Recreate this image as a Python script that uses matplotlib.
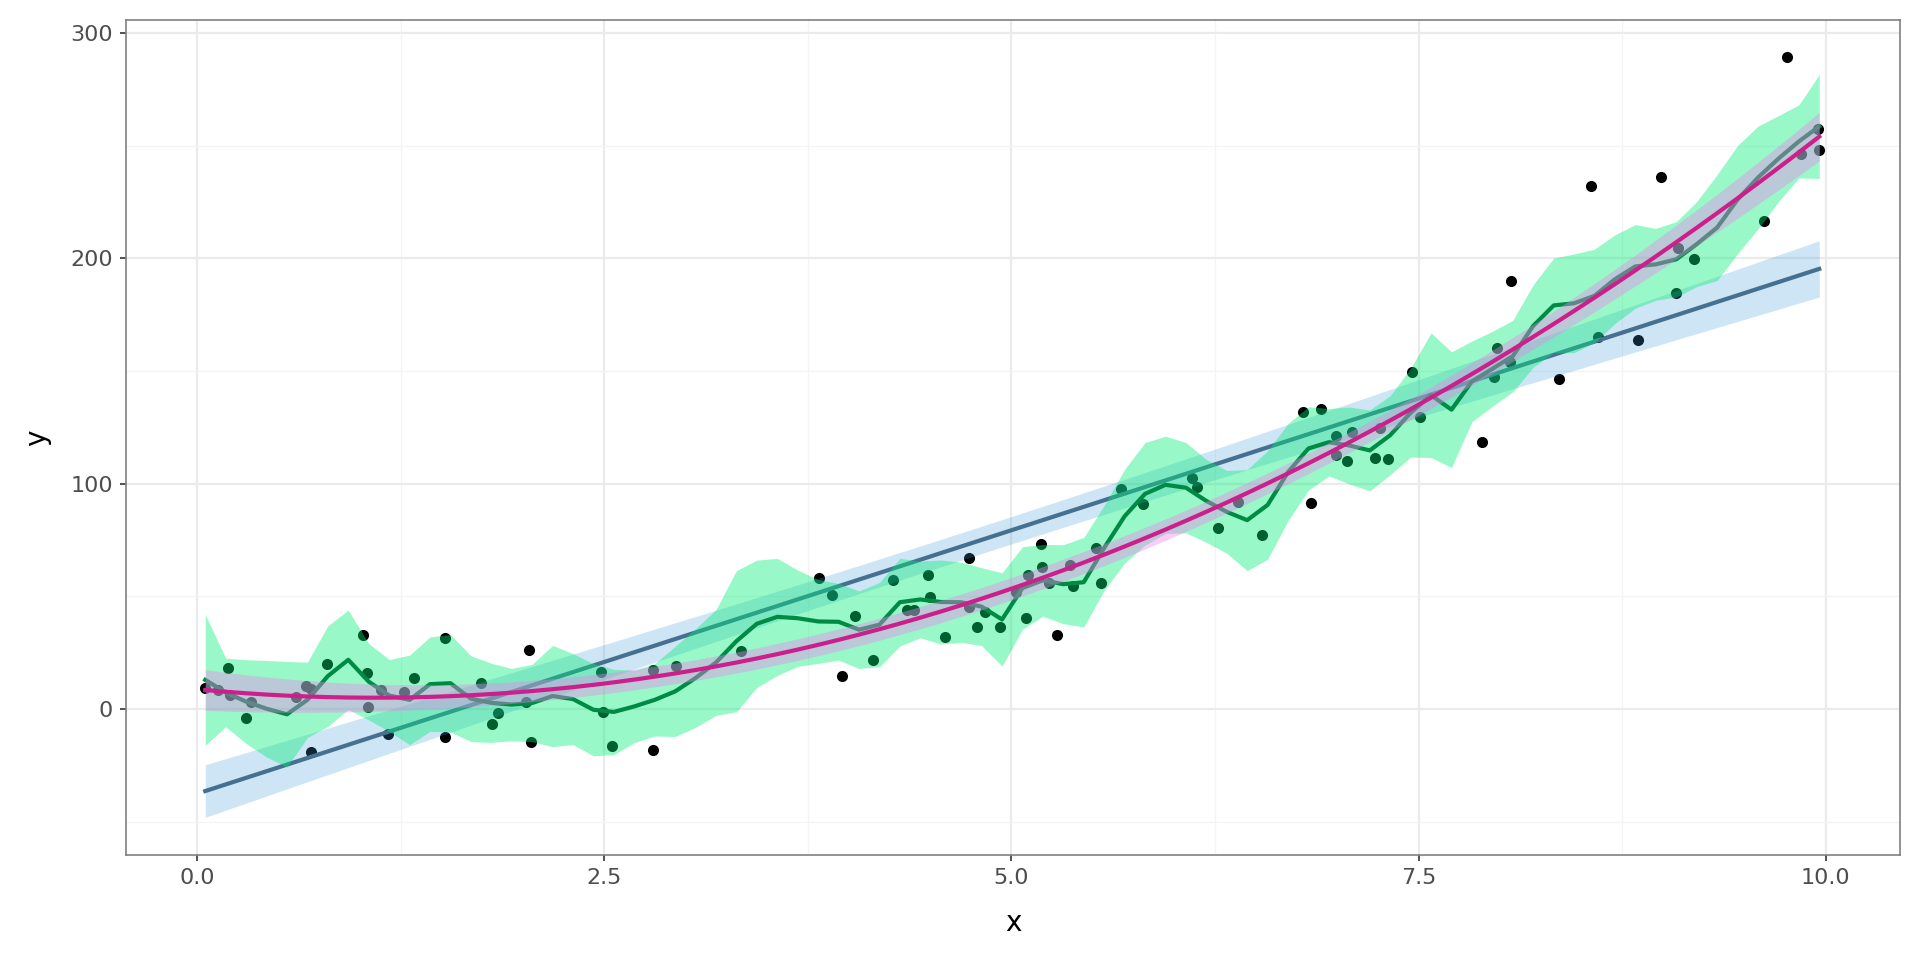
import numpy as np
import matplotlib
matplotlib.use('Agg')
import matplotlib.pyplot as plt

#data
x = np.array([0.05, 0.13, 0.19, 0.20, 0.30, 0.33, 0.61, 0.67, 0.70, 0.70,
              0.80, 1.02, 1.04, 1.05, 1.13, 1.17, 1.27, 1.33, 1.52, 1.52,
              1.74, 1.81, 1.85, 2.02, 2.04, 2.05, 2.48, 2.49, 2.55, 2.80,
              2.80, 2.94, 3.34, 3.82, 3.90, 3.96, 4.04, 4.15, 4.27, 4.36,
              4.40, 4.49, 4.50, 4.59, 4.74, 4.74, 4.79, 4.84, 4.93, 5.03,
              5.09, 5.10, 5.18, 5.19, 5.23, 5.28, 5.36, 5.38, 5.52, 5.55,
              5.67, 5.81, 6.11, 6.14, 6.27, 6.39, 6.54, 6.79, 6.84, 6.90,
              6.99, 6.99, 7.06, 7.09, 7.23, 7.26, 7.31, 7.46, 7.51, 7.89,
              7.96, 7.98, 8.06, 8.07, 8.36, 8.56, 8.60, 8.85, 8.99, 9.08,
              9.09, 9.19, 9.62, 9.76, 9.85, 9.95, 9.96])
y = np.array([9.5, 8.4, 18.1, 6.2, -4.1, 3.2, 5.5, 10.0, 9.0, -19.0,
              20.0, 32.8, 16.1, 1.1, 8.5, -11.0, 7.4, 13.9, 31.7, -12.3,
              11.4, -6.8, -1.9, 3.3, 26.2, -14.8, 16.6, -1.2, -16.3, -18.2,
              17.3, 19.2, 25.7, 58.0, 50.6, 14.8, 41.3, 21.7, 57.3, 44.0,
              44.0, 59.5, 49.8, 32.1, 66.9, 45.1, 36.5, 43.2, 36.3, 52.1,
              40.3, 59.5, 73.2, 63.2, 55.8, 32.8, 63.9, 54.7, 71.6, 55.8,
              97.5, 90.9, 102.4, 98.7, 80.5, 91.8, 77.2, 131.7, 91.6, 133.4,
              121.2, 112.7, 110.1, 122.8, 111.3, 124.6, 111.0, 149.7, 129.7, 118.6,
              147.5, 160.1, 154.1, 190.1, 146.3, 232.1, 165.2, 163.8, 236.0, 184.9,
              204.5, 199.7, 216.7, 289.5, 246.6, 257.3, 248.1])

x_ticks = [0, 2.5, 5, 7.5, 10]
x_tick_labels = ['0.0', '2.5', '5.0', '7.5', '10.0']
y_ticks = [0, 100, 200, 300]


def poly_smooth(x, y, deg, grid, t=1.985):
    X = np.vander(x, deg + 1)
    beta = np.linalg.lstsq(X, y, rcond=None)[0]
    res = y - X @ beta
    s2 = res @ res / (len(x) - deg - 1)
    G = np.vander(grid, deg + 1)
    cov = np.linalg.inv(X.T @ X)
    se = np.sqrt(s2 * np.einsum('ij,jk,ik->i', G, cov, G))
    fit = G @ beta
    return fit, fit - t * se, fit + t * se


def loess_row(x, x0, q):
    #local quadratic, tricube weights
    d = np.abs(x - x0)
    dmax = np.sort(d)[q - 1]
    w = np.clip(1 - (d / dmax) ** 3, 0, None) ** 3
    X = np.column_stack([np.ones_like(x), x - x0, (x - x0) ** 2])
    W = X * w[:, None]
    return np.linalg.solve(X.T @ W, W.T)[0]


def loess_smooth(x, y, grid, span, t=2.0):
    q = int(np.floor(len(x) * span))
    L = np.array([loess_row(x, xi, q) for xi in x])
    res = y - L @ y
    s2 = res @ res / (len(x) - np.trace(L))
    rows = np.array([loess_row(x, g, q) for g in grid])
    fit = rows @ y
    se = np.sqrt(s2 * (rows ** 2).sum(axis=1))
    return fit, fit - t * se, fit + t * se


grid = np.linspace(x.min(), x.max(), 80)
lin, lin_lo, lin_hi = poly_smooth(x, y, 1, grid)
quad, quad_lo, quad_hi = poly_smooth(x, y, 2, grid)
lo, lo_lo, lo_hi = loess_smooth(x, y, grid, 0.125)

fig = plt.figure(figsize=(19.2, 9.6), dpi=100)
ax = fig.add_axes([0.0656, 0.1094, 0.924, 0.8696])

ax.scatter(x, y, s=64, color='black', linewidths=0, zorder=2)

ax.fill_between(grid, lin_lo, lin_hi, color='#3a9ad9', alpha=0.25, linewidth=0, zorder=3)
ax.plot(grid, lin, color='#46708f', lw=3.0, zorder=3.1)

ax.fill_between(grid, lo_lo, lo_hi, color='#00ee76', alpha=0.4, linewidth=0, zorder=4)
ax.plot(grid, lo, color='#008b45', lw=3.0, zorder=4.1)

ax.fill_between(grid, quad_lo, quad_hi, color='violet', alpha=0.4, linewidth=0, zorder=5)
ax.plot(grid, quad, color='#cd1f8c', lw=3.0, zorder=5.1)

#theme_bw look
ax.set_xlim(-0.437, 10.456)
ax.set_ylim(-64.8, 305.8)
ax.set_xticks(x_ticks)
ax.set_xticklabels(x_tick_labels)
ax.set_yticks(y_ticks)
ax.set_xticks([1.25, 3.75, 6.25, 8.75], minor=True)
ax.set_yticks([-50, 50, 150, 250], minor=True)
ax.set_axisbelow(True)
ax.grid(which='major', color='#ebebeb', lw=1.6)
ax.grid(which='minor', color='#f4f4f4', lw=0.9)
ax.tick_params(which='minor', length=0)
ax.tick_params(which='major', length=4.5, width=1.2, color='#333333',
               labelsize=16, labelcolor='#4d4d4d', pad=5)
for sp in ax.spines.values():
    sp.set_color('#808080')
    sp.set_linewidth(1.2)

ax.set_xlabel('x', fontsize=20, labelpad=15)
ax.set_ylabel('y', fontsize=20, labelpad=14)

plt.savefig('out.png', dpi=100)
